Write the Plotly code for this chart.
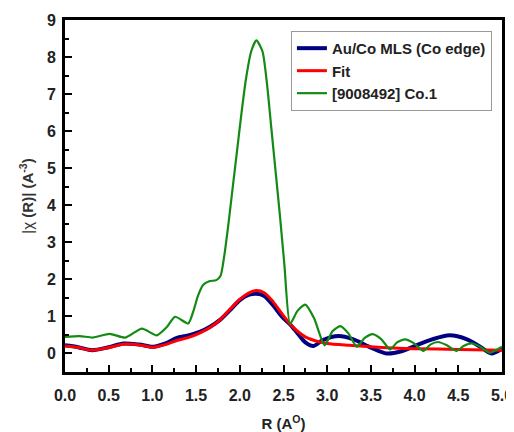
import plotly.graph_objects as go

# Au/Co MLS (Co edge) - measured
r_data = [0.0, 0.15, 0.31, 0.5, 0.67, 0.85, 1.01, 1.15, 1.28, 1.4, 1.54, 1.66, 1.77, 1.9, 2.0, 2.1, 2.19, 2.28,
          2.38, 2.48, 2.57, 2.66, 2.75, 2.84, 2.95, 3.13, 3.3, 3.5, 3.68, 3.85, 4.0, 4.2, 4.4, 4.6, 4.75, 4.88, 5.0]
chi_data = [0.22, 0.17, 0.09, 0.17, 0.27, 0.24, 0.18, 0.27, 0.42, 0.48, 0.58, 0.72, 0.9, 1.2, 1.44, 1.58, 1.61, 1.55,
            1.3, 1.0, 0.8, 0.55, 0.3, 0.2, 0.36, 0.47, 0.38, 0.16, 0.0, 0.06, 0.2, 0.38, 0.49, 0.38, 0.18, 0.0, 0.13]

# Fit
r_fit = [0.0, 0.15, 0.31, 0.5, 0.67, 0.85, 1.01, 1.15, 1.28, 1.4, 1.54, 1.66, 1.77, 1.9, 2.0, 2.1, 2.19, 2.28,
         2.38, 2.48, 2.57, 2.66, 2.75, 2.9, 3.0, 3.25, 3.5, 3.75, 4.0, 4.5, 5.0]
chi_fit = [0.2, 0.16, 0.09, 0.16, 0.25, 0.23, 0.17, 0.24, 0.35, 0.42, 0.55, 0.7, 0.9, 1.22, 1.46, 1.63, 1.7, 1.64,
           1.4, 1.08, 0.81, 0.6, 0.45, 0.32, 0.27, 0.22, 0.18, 0.15, 0.13, 0.11, 0.09]

# [9008492] Co.1
r_co = [0.0, 0.17, 0.32, 0.51, 0.69, 0.88, 1.05, 1.16, 1.26, 1.41, 1.47, 1.52, 1.58, 1.65, 1.73, 1.78, 1.82, 1.87,
        1.92, 1.97, 2.02, 2.07, 2.13, 2.19, 2.26, 2.31, 2.36, 2.41, 2.46, 2.51, 2.575,
        2.66, 2.75, 2.85, 2.97, 3.06, 3.15, 3.24, 3.34, 3.43, 3.52, 3.62, 3.72, 3.8, 3.89, 3.99, 4.1, 4.18, 4.27,
        4.37, 4.48, 4.56, 4.65, 4.75, 4.86, 5.0]
chi_co = [0.45, 0.47, 0.43, 0.53, 0.43, 0.67, 0.49, 0.7, 0.99, 0.81, 1.15, 1.55, 1.85, 1.95, 1.98, 2.1, 2.6, 3.5,
          4.5, 5.5, 6.5, 7.4, 8.15, 8.45, 8.15, 7.3, 6.1, 4.9, 3.7, 2.4, 0.8,
          1.15, 1.32, 0.95, 0.22, 0.6, 0.74, 0.55, 0.18, 0.42, 0.52, 0.38, 0.11, 0.3, 0.38, 0.28, 0.07, 0.24, 0.31,
          0.22, 0.07, 0.2, 0.27, 0.18, 0.02, 0.18]

x_ticks = [0.0, 0.5, 1.0, 1.5, 2.0, 2.5, 3.0, 3.5, 4.0, 4.5, 5.0]
x_ticktext = ["0.0", "0.5", "1.0", "1.5", "2.0", "2.5", "3.0", "3.5", "4.0", "4.5", "5.0"]
y_ticks = [0, 1, 2, 3, 4, 5, 6, 7, 8, 9]

FONT = "Liberation Sans, Arial, sans-serif"

fig = go.Figure()
fig.add_trace(go.Scatter(x=r_data, y=chi_data, mode="lines", name="Au/Co MLS (Co edge)",
                         line=dict(color="#000080", width=4, shape="spline", smoothing=0.8)))
fig.add_trace(go.Scatter(x=r_fit, y=chi_fit, mode="lines", name="Fit",
                         line=dict(color="#ff0000", width=3, shape="spline", smoothing=0.8)))
fig.add_trace(go.Scatter(x=r_co, y=chi_co, mode="lines", name="[9008492] Co.1",
                         line=dict(color="#138a13", width=2.2, shape="spline", smoothing=0.6)))

axis_common = dict(showline=True, linecolor="black", linewidth=3, mirror=True, ticks="inside",
                   tickwidth=2, ticklen=7, tickcolor="black", showgrid=False, zeroline=False,
                   automargin=False,
                   tickfont=dict(family=FONT, size=16, color="#222", weight="bold"))

fig.update_xaxes(range=[0, 5.0], tickvals=x_ticks, ticktext=x_ticktext, ticklabelstandoff=7,
                 minor=dict(ticks="inside", ticklen=4, tickwidth=2, dtick=0.25, tick0=0, tickcolor="black"),
                 title=dict(text="R (A<sup>O</sup>)", font=dict(family=FONT, size=15, color="#222", weight="bold"),
                            standoff=20),
                 **axis_common)
fig.update_yaxes(range=[-0.5, 9], tickvals=y_ticks, ticklabelstandoff=3,
                 minor=dict(ticks="inside", ticklen=4, tickwidth=2, dtick=0.5, tick0=0, tickcolor="black"),
                 title=dict(text="<span style='font-weight:normal'>|χ</span> (R)| (A<sup>-3</sup>)",
                            font=dict(family=FONT, size=15, color="#333", weight="bold"), standoff=10),
                 **axis_common)

fig.update_layout(
    width=506, height=424,
    margin=dict(l=57, r=12, t=12, b=60),
    paper_bgcolor="white", plot_bgcolor="white",
    font=dict(family=FONT, color="#222"),
    legend=dict(x=0.517, y=0.969, xanchor="left", yanchor="top",
                bgcolor="white", bordercolor="#999", borderwidth=1,
                font=dict(family=FONT, size=15, color="#222", weight="bold"),
                tracegroupgap=0, itemwidth=30),
    showlegend=True,
)

fig.write_html("out.html")
